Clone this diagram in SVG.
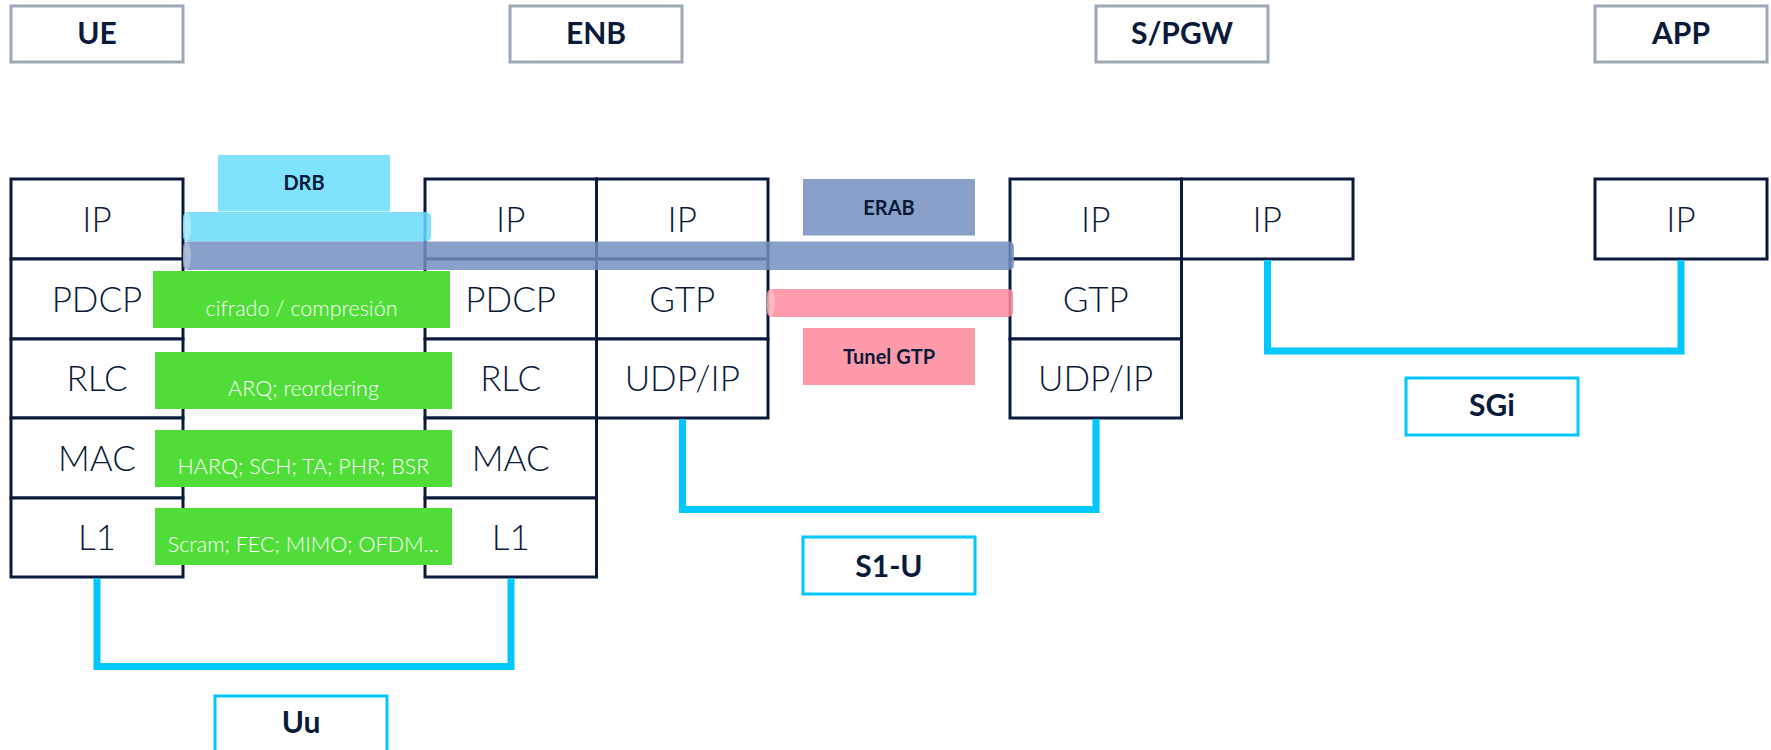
<svg xmlns="http://www.w3.org/2000/svg" width="1771" height="750" viewBox="0 0 1771 750">
<style>
.hdr{fill:#fff;stroke:#9ea8b6;stroke-width:3}
.cell{fill:#fff;stroke:#0b1a3c;stroke-width:3}
.lbl{fill:#fff;stroke:#00c8ff;stroke-width:3}
.ht{font-family:Lato,"Open Sans",sans-serif;font-weight:700;font-size:30px;fill:#0a1a3b;text-anchor:middle}
.st{font-family:Lato,"Open Sans",sans-serif;font-weight:300;font-size:35px;fill:#0a1a3b;text-anchor:middle}
.bt{font-family:Lato,"Open Sans",sans-serif;font-weight:700;font-size:20px;fill:#0a1a3b;text-anchor:middle}
.gt{font-family:Lato,"Open Sans",sans-serif;font-weight:300;font-size:21.5px;fill:#fff;text-anchor:middle}
.green{fill:#50dd38}
.conn{fill:none;stroke:#00c8ff;stroke-width:7;stroke-linejoin:miter}
</style>

<g id="hdr-ue"><rect class="hdr" x="11" y="6" width="172" height="56"/><text class="ht" x="97" y="44">UE</text></g>
<g id="hdr-enb"><rect class="hdr" x="510" y="6" width="172" height="56"/><text class="ht" x="596" y="44">ENB</text></g>
<g id="hdr-spgw"><rect class="hdr" x="1096" y="6" width="172" height="56"/><text class="ht" x="1182" y="44">S/PGW</text></g>
<g id="hdr-app"><rect class="hdr" x="1595" y="6" width="172" height="56"/><text class="ht" x="1681" y="44">APP</text></g>

<g id="stack-ue">
<rect class="cell" x="11" y="179" width="172" height="80"/>
<rect class="cell" x="11" y="259" width="172" height="80"/>
<rect class="cell" x="11" y="339" width="172" height="79"/>
<rect class="cell" x="11" y="418" width="172" height="80"/>
<rect class="cell" x="11" y="498" width="172" height="79"/>
<text class="st" x="97" y="231.5">IP</text>
<text class="st" x="97" y="311.5">PDCP</text>
<text class="st" x="97" y="391">RLC</text>
<text class="st" x="97" y="470.5">MAC</text>
<text class="st" x="97" y="550">L1</text>
</g>

<g id="stack-enb">
<rect class="cell" x="425" y="179" width="171.5" height="80"/>
<rect class="cell" x="425" y="259" width="171.5" height="80"/>
<rect class="cell" x="425" y="339" width="171.5" height="79"/>
<rect class="cell" x="425" y="418" width="171.5" height="80"/>
<rect class="cell" x="425" y="498" width="171.5" height="79"/>
<rect class="cell" x="596.5" y="179" width="171.5" height="80"/>
<rect class="cell" x="596.5" y="259" width="171.5" height="80"/>
<rect class="cell" x="596.5" y="339" width="171.5" height="79"/>
<text class="st" x="510.7" y="231.5">IP</text>
<text class="st" x="510.7" y="311.5">PDCP</text>
<text class="st" x="510.7" y="391">RLC</text>
<text class="st" x="510.7" y="470.5">MAC</text>
<text class="st" x="510.7" y="550">L1</text>
<text class="st" x="682.3" y="231.5">IP</text>
<text class="st" x="682.3" y="311.5">GTP</text>
<text class="st" x="682.3" y="391">UDP/IP</text>
</g>

<g id="stack-spgw">
<rect class="cell" x="1010" y="179" width="171.5" height="80"/>
<rect class="cell" x="1010" y="259" width="171.5" height="80"/>
<rect class="cell" x="1010" y="339" width="171.5" height="79"/>
<rect class="cell" x="1181.5" y="179" width="171.5" height="80"/>
<text class="st" x="1095.7" y="231.5">IP</text>
<text class="st" x="1095.7" y="311.5">GTP</text>
<text class="st" x="1095.7" y="391">UDP/IP</text>
<text class="st" x="1267.3" y="231.5">IP</text>
</g>

<g id="stack-app">
<rect class="cell" x="1595" y="179" width="172" height="80"/>
<text class="st" x="1681" y="231.5">IP</text>
</g>

<g id="bearers">
<rect x="183" y="212" width="248" height="29.5" rx="5" fill="#68dbfb" opacity="0.85"/>
<ellipse cx="187" cy="226.7" rx="4" ry="14" fill="#fff" opacity="0.35"/>
<rect x="183" y="241.5" width="831" height="28.5" rx="5" fill="#748fbe" opacity="0.85"/>
<ellipse cx="187" cy="255.7" rx="4" ry="13.5" fill="#fff" opacity="0.3"/>
<rect x="767" y="289" width="246" height="28" rx="5" fill="#ff8a9d" opacity="0.85"/>
<ellipse cx="771" cy="303" rx="4" ry="13.5" fill="#fff" opacity="0.3"/>
</g>

<g id="drb"><rect x="218" y="155" width="172" height="56.5" fill="#80e3fc"/><text class="bt" x="304" y="190">DRB</text></g>
<g id="erab"><rect x="803" y="179" width="172" height="56.5" fill="#89a0c8"/><text class="bt" x="889" y="215">ERAB</text></g>
<g id="tunel"><rect x="803" y="328" width="172" height="57" fill="#ff9aaa"/><text class="bt" x="889" y="364">Tunel GTP</text></g>

<g id="g-pdcp"><rect class="green" x="153" y="271" width="297" height="57"/><text class="gt" x="301.5" y="316">cifrado / compresión</text></g>
<g id="g-rlc"><rect class="green" x="155" y="352" width="297" height="57"/><text class="gt" x="303.5" y="396">ARQ; reordering</text></g>
<g id="g-mac"><rect class="green" x="155" y="430" width="297" height="57"/><text class="gt" x="303.5" y="473.5">HARQ; SCH; TA; PHR; BSR</text></g>
<g id="g-l1"><rect class="green" x="155" y="508" width="297" height="57"/><text class="gt" x="303.5" y="552">Scram; FEC; MIMO; OFDM…</text></g>

<g id="connectors">
<polyline class="conn" points="97,578 97,666.5 511,666.5 511,578"/>
<polyline class="conn" points="682.5,419 682.5,509.5 1096,509.5 1096,419"/>
<polyline class="conn" points="1267.5,260 1267.5,351 1681,351 1681,260"/>
</g>

<g id="lbl-uu"><rect class="lbl" x="215" y="696" width="172" height="58"/><text class="ht" x="301" y="733">Uu</text></g>
<g id="lbl-s1u"><rect class="lbl" x="803" y="537" width="172" height="57"/><text class="ht" x="889" y="577">S1-U</text></g>
<g id="lbl-sgi"><rect class="lbl" x="1406" y="378" width="172" height="57"/><text class="ht" x="1492" y="416">SGi</text></g>
</svg>
